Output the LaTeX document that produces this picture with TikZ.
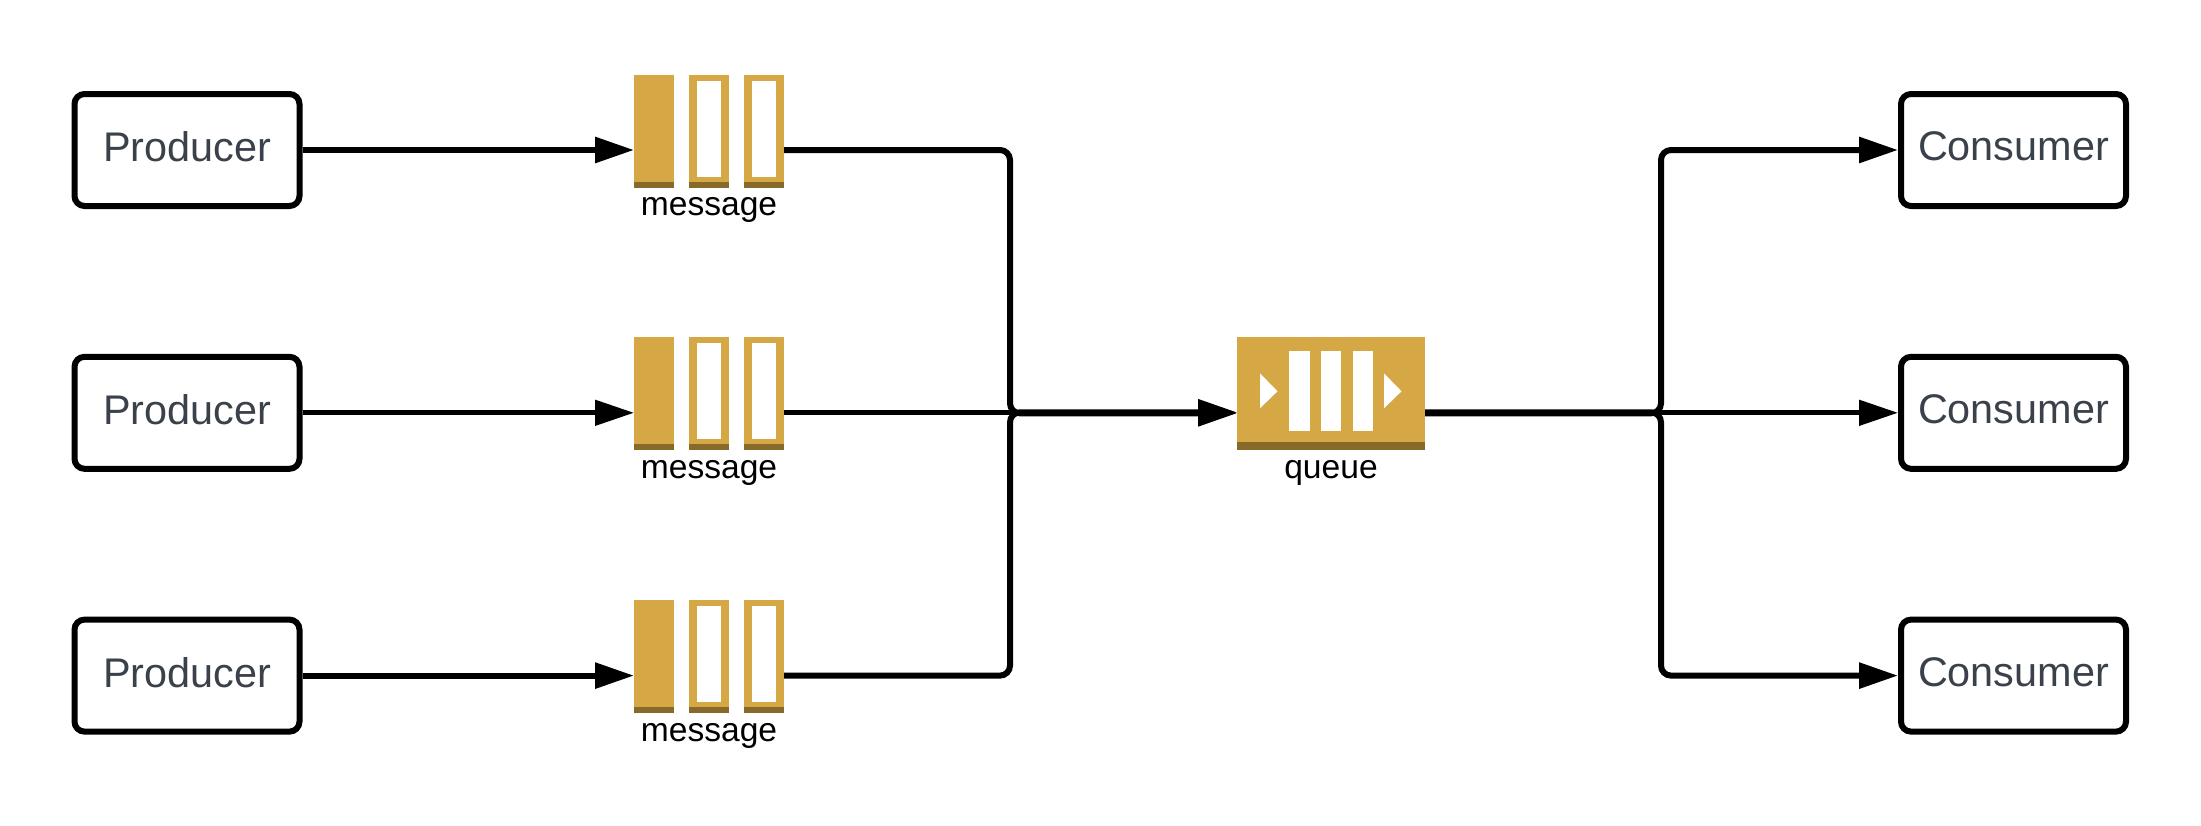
\documentclass[tikz,border=0pt]{standalone}
\usepackage{fontspec}
\setmainfont{Liberation Sans}
\usetikzlibrary{calc, arrows.meta, positioning}
\definecolor{boxtext}{HTML}{3A414A}
\definecolor{iconfill}{HTML}{D6A745}
\definecolor{icondark}{HTML}{876929}

% three bars of a message icon, drawn from the top left of the named node
\newcommand{\msgbars}[1]{
    \begin{scope}[shift={(#1.north west)}]
        \fill[iconfill] (0,0) rectangle (40,113);
        \fill[iconfill] (55,0) rectangle (95,113);
        \fill[iconfill] (110,0) rectangle (150,113);
        \fill[white] (62.5,6) rectangle (87,102);
        \fill[white] (118,6) rectangle (142,102);
        \fill[icondark] (0,107) rectangle (40,113);
        \fill[icondark] (55,107) rectangle (95,113);
        \fill[icondark] (110,107) rectangle (150,113);
    \end{scope}
}

\begin{document}
\begin{tikzpicture}[
    x=0.5pt, y=-0.5pt,
    node distance=72.4pt,
    box/.style={rectangle, draw, line width=3pt, rounded corners=5pt, minimum width=112.5pt, minimum height=56pt, inner sep=0pt, text depth=3.5pt, text=boxtext, font=\fontsize{20.7pt}{24pt}\selectfont},
    msgicon/.style={rectangle, minimum width=75pt, minimum height=75.5pt, inner sep=0pt, outer sep=0pt},
    queueicon/.style={rectangle, minimum width=94pt, minimum height=75.5pt, inner sep=0pt, outer sep=0pt},
    caption/.style={anchor=base, inner sep=0pt, font=\fontsize{16.8pt}{20pt}\selectfont},
    arrow/.style={-{Triangle[length=19.5pt, width=12.5pt]}, line width=3pt, rounded corners=5pt},
    thinarrow/.style={arrow, line width=2.4pt}
]
    \useasboundingbox (0,0) rectangle (2201,825);

    % Producer column
    \node[box] (prodA) at (187,150) {Producer};
    \node[box, below=of prodA] (prodB) {Producer};
    \node[box, below=of prodB] (prodC) {Producer};

    % Message icons
    \node[msgicon, right=165.75pt of prodA] (msgA) {};
    \node[msgicon, right=165.75pt of prodB] (msgB) {};
    \node[msgicon, right=165.75pt of prodC] (msgC) {};
    \msgbars{msgA}
    \msgbars{msgB}
    \msgbars{msgC}
    \node[caption] (msgAtext) at ([yshift=5pt]msgA.south) {message};
    \node[caption] (msgBtext) at ([yshift=5pt]msgB.south) {message};
    \node[caption] (msgCtext) at ([yshift=5pt]msgC.south) {message};

    % Queue icon
    \node[queueicon, right=226.5pt of msgB] (queue) {};
    \begin{scope}[shift={(queue.north west)}]
        \fill[iconfill] (0,0) rectangle (188,113);
        \fill[icondark] (0,105) rectangle (188,113);
        \fill[white] (52,14) rectangle (72.5,94);
        \fill[white] (83.5,14) rectangle (104,94);
        \fill[white] (115.5,14) rectangle (135.5,94);
        \fill[white] (23,36) -- (40.5,54) -- (23,71) -- cycle;
        \fill[white] (147,36) -- (164.5,54) -- (147,71) -- cycle;
    \end{scope}
    \node[caption] (queuetext) at ([yshift=5pt]queue.south) {queue};

    % Consumer column
    \node[box, right=236.5pt of queue] (consB) {Consumer};
    \node[box, above=of consB] (consA) {Consumer};
    \node[box, below=of consB] (consC) {Consumer};

    % Joints where the lines meet
    \coordinate (joinL) at (1010,0 |- queue);
    \coordinate (joinR) at (1661,0 |- queue);

    % Arrows - producers to messages
    \draw[arrow] (prodA) -- (msgA);
    \draw[thinarrow] (prodB) -- (msgB);
    \draw[arrow] (prodC) -- (msgC);

    % Arrows - messages to queue
    \draw[arrow] (msgA.east) -| ([yshift=-0.25pt]joinL) -- ([yshift=-0.25pt]queue.west);
    \draw[thinarrow] (msgB.east) -- (queue.west);
    \draw[arrow] (msgC.east) -| ([yshift=0.25pt]joinL) -- ([yshift=0.25pt]queue.west);

    % Arrows - queue to consumers
    \draw[arrow] ([yshift=-0.25pt]queue.east) -- ([yshift=-0.25pt]joinR) |- (consA.west);
    \draw[thinarrow] (queue.east) -- (consB.west);
    \draw[arrow] ([yshift=0.25pt]queue.east) -- ([yshift=0.25pt]joinR) |- (consC.west);
\end{tikzpicture}
\end{document}
